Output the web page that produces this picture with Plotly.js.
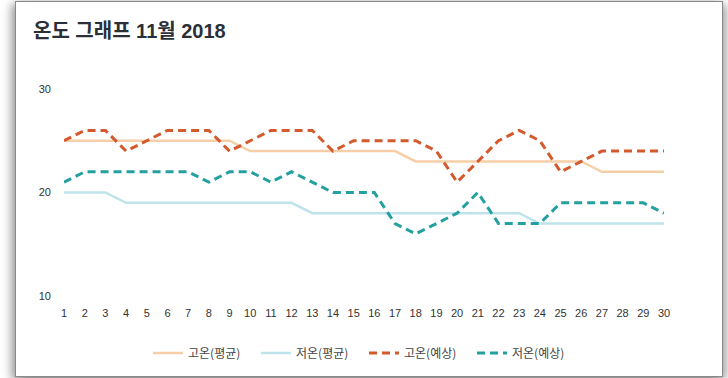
<!DOCTYPE html>
<html>
<head>
<meta charset="utf-8">
<script src="https://cdn.plot.ly/plotly-3.0.1.min.js"></script>
<style>
  html, body { margin: 0; padding: 0; background: #ffffff; width: 728px; height: 378px; overflow: hidden; }
  #frame { position: absolute; left: 15px; top: 1px; width: 706px; height: 374px; border: 1px solid #8a8a8a; background: #ffffff; box-shadow: -4px 3px 9px rgba(0,0,0,0.35), 4px 3px 9px rgba(0,0,0,0.3); }
  #chart { position: absolute; left: 0; top: 0; width: 728px; height: 378px; }
</style>
</head>
<body>
<div id="frame"></div>
<div id="chart"></div>
<script>
const days = [1,2,3,4,5,6,7,8,9,10,11,12,13,14,15,16,17,18,19,20,21,22,23,24,25,26,27,28,29,30];
const highAvg = [25,25,25,25,25,25,25,25,25,24,24,24,24,24,24,24,24,23,23,23,23,23,23,23,23,23,22,22,22,22];
const lowAvg  = [20,20,20,19,19,19,19,19,19,19,19,19,18,18,18,18,18,18,18,18,18,18,18,17,17,17,17,17,17,17];
const highFc  = [25,26,26,24,25,26,26,26,24,25,26,26,26,24,25,25,25,25,24,21,23,25,26,25,22,23,24,24,24,24];
const lowFc   = [21,22,22,22,22,22,22,21,22,22,21,22,21,20,20,20,17,16,17,18,20,17,17,17,19,19,19,19,19,18];
const names = ['고온(평균)','저온(평균)','고온(예상)','저온(예상)'];
const yTicks = [10,20,30];

const traces = [
  {x: days, y: highAvg, name: names[0], mode: 'lines', line: {color: '#f6cfa8', width: 2.5}},
  {x: days, y: lowAvg,  name: names[1], mode: 'lines', line: {color: '#bfe3ea', width: 2.5}},
  {x: days, y: highFc,  name: names[2], mode: 'lines', line: {color: '#d4592d', width: 3, dash: '8px,5px'}},
  {x: days, y: lowFc,   name: names[3], mode: 'lines', line: {color: '#23a09f', width: 3, dash: '8px,5px'}}
];

const layout = {
  width: 728, height: 378,
  paper_bgcolor: 'rgba(0,0,0,0)', plot_bgcolor: 'rgba(0,0,0,0)',
  margin: {l: 64, r: 64, t: 89, b: 82},
  font: {family: 'Liberation Sans, Arial, sans-serif', color: '#333333', size: 11},
  title: {
    text: '<b>온도 그래프 11월 2018</b>',
    font: {family: 'Liberation Sans, Noto Sans CJK KR, sans-serif', size: 20, color: '#2b2f38'},
    x: 33/728, xanchor: 'left', xref: 'container',
    y: 1 - 31/378, yanchor: 'middle', yref: 'container'
  },
  xaxis: {
    range: [1, 30], tickmode: 'array', tickvals: days, ticktext: days.map(String),
    showgrid: false, zeroline: false, showline: false, ticks: '', ticklabelstandoff: 9,
    tickfont: {size: 11, color: '#333333'}, fixedrange: true
  },
  yaxis: {
    range: [10, 30], tickmode: 'array', tickvals: yTicks, ticktext: yTicks.map(String),
    showgrid: false, zeroline: false, showline: false, ticks: '', ticklabelstandoff: 12,
    tickfont: {size: 11, color: '#333333'}, fixedrange: true
  },
  showlegend: true,
  legend: {
    orientation: 'h', x: 0.5, xanchor: 'center', xref: 'container',
    y: 1 - 353/378, yanchor: 'middle', yref: 'container',
    font: {family: 'Noto Sans CJK KR, sans-serif', size: 12, color: '#444444'},
    itemwidth: 30, traceorder: 'normal', entrywidth: 63, entrywidthmode: 'pixels'
  }
};

Plotly.newPlot('chart', traces, layout, {displayModeBar: false, staticPlot: true});
</script>
</body>
</html>
